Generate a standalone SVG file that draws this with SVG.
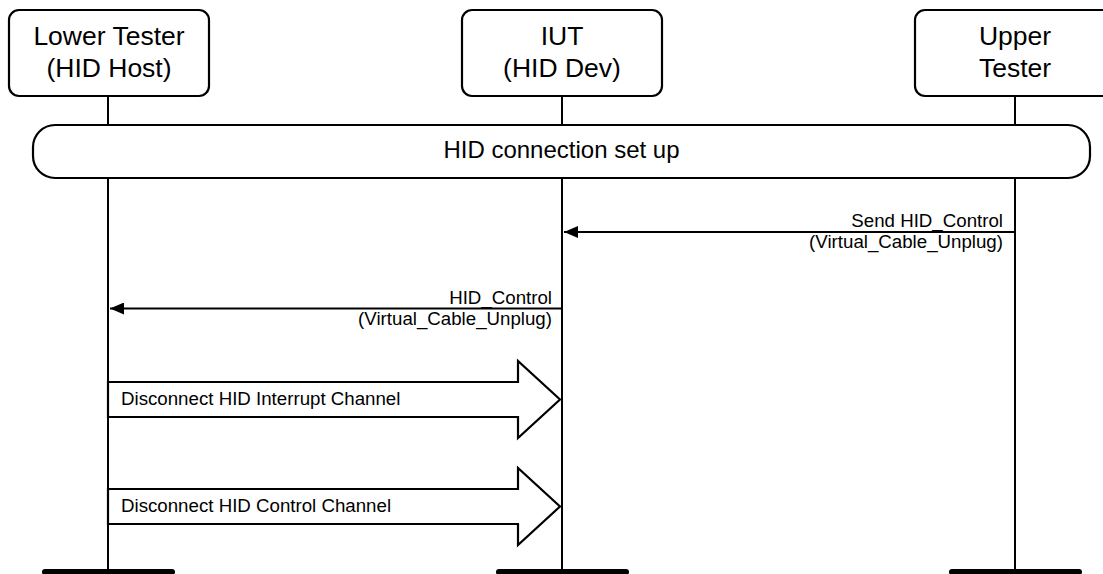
<svg xmlns="http://www.w3.org/2000/svg" width="1103" height="574" viewBox="0 0 1103 574">
<style>
  .box{fill:#fff;stroke:#000;stroke-width:2.2}
  .life{stroke:#000;stroke-width:2;fill:none}
  .msg{stroke:#000;stroke-width:2;fill:none}
  .foot{stroke:#000;stroke-width:6;stroke-linecap:round}
  .hdr{font-family:"Liberation Sans",Arial,sans-serif;font-size:26.5px;fill:#000;text-anchor:middle}
  .big{font-family:"Liberation Sans",Arial,sans-serif;font-size:24px;fill:#000;text-anchor:middle}
  .lbl{font-family:"Liberation Sans",Arial,sans-serif;font-size:18.7px;fill:#000}
  .r{text-anchor:end}
</style>
<defs>
  <marker id="ah" markerWidth="14" markerHeight="12" refX="14" refY="6" orient="auto" markerUnits="userSpaceOnUse">
    <path d="M0,0 L14,6 L0,12 Z" fill="#000"/>
  </marker>
</defs>
<rect width="1103" height="574" fill="#fff"/>
<g id="lifelines">
  <line class="life" x1="108" y1="96" x2="108" y2="569"/>
  <line class="life" x1="562" y1="96" x2="562" y2="569"/>
  <line class="life" x1="1015" y1="96" x2="1015" y2="569"/>
  <line class="foot" x1="45" y1="572" x2="172" y2="572"/>
  <line class="foot" x1="499" y1="572" x2="626" y2="572"/>
  <line class="foot" x1="952" y1="572" x2="1079" y2="572"/>
</g>
<g id="lower-tester">
  <rect class="box" x="9" y="10" width="200" height="86" rx="10"/>
  <text class="hdr" x="109" y="45">Lower Tester</text>
  <text class="hdr" x="109" y="77">(HID Host)</text>
</g>
<g id="iut">
  <rect class="box" x="462" y="10" width="200" height="86" rx="10"/>
  <text class="hdr" x="562" y="45">IUT</text>
  <text class="hdr" x="562" y="77">(HID Dev)</text>
</g>
<g id="upper-tester">
  <path class="box" d="M1104,10 H925 A10,10 0 0 0 915,20 V86 A10,10 0 0 0 925,96 H1104"/>
  <text class="hdr" x="1015" y="45">Upper</text>
  <text class="hdr" x="1015" y="77">Tester</text>
</g>
<g id="setup">
  <rect class="box" x="33" y="125" width="1057" height="53" rx="22"/>
  <text class="big" x="561.5" y="158">HID connection set up</text>
</g>
<g id="connectors">
  <line class="msg" x1="1015" y1="232" x2="564" y2="232" marker-end="url(#ah)"/>
  <text class="lbl r" x="1003" y="227">Send HID_Control</text>
  <text class="lbl r" x="1003" y="248">(Virtual_Cable_Unplug)</text>
  <line class="msg" x1="562" y1="308.5" x2="110" y2="308.5" marker-end="url(#ah)"/>
  <text class="lbl r" x="552" y="304">HID_Control</text>
  <text class="lbl r" x="552" y="325">(Virtual_Cable_Unplug)</text>
  <polygon class="box" points="108,382 518,382 518,361 560,399.5 518,438 518,417 108,417"/>
  <text class="lbl" x="121" y="405">Disconnect HID Interrupt Channel</text>
  <polygon class="box" points="108,489 518,489 518,468 560,506.5 518,545 518,524 108,524"/>
  <text class="lbl" x="121" y="512">Disconnect HID Control Channel</text>
</g>
</svg>
